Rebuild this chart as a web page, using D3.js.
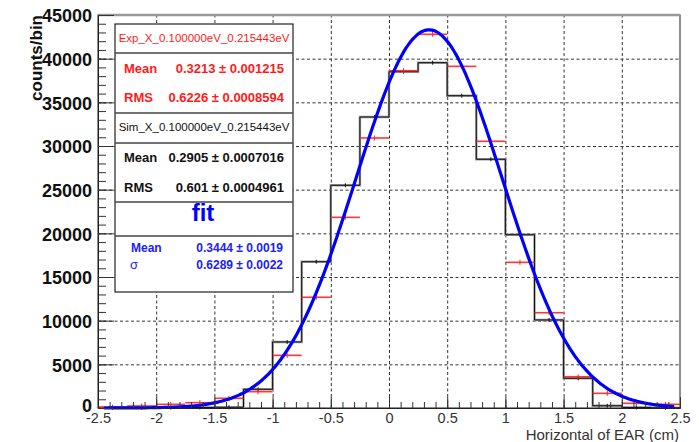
<!DOCTYPE html>
<html>
<head>
<meta charset="utf-8">
<title>Horizontal of EAR</title>
<script src="https://cdn.jsdelivr.net/npm/d3@7"></script>
<style>
    body { margin: 0; background: #fff; }
    svg { display: block; font-family: "Liberation Sans", Arial, sans-serif; }
    .grid line { stroke: #333; stroke-dasharray: 3,2.5; stroke-width: 1; }
    .grid path { display: none; }
    .ax path { stroke: #222; }
    .ax line { stroke: #333; }
</style>
</head>
<body>
<svg id="chart" width="699" height="442"></svg>
<script>
// bin low edges (width 0.25 cm)
var binLow = [-2.5, -2.25, -2, -1.75, -1.5, -1.25, -1, -0.75, -0.5, -0.25,
              0, 0.25, 0.5, 0.75, 1, 1.25, 1.5, 1.75, 2, 2.25];
var binWidth = 0.25;
// Sim_X histogram (black)
var simCounts = [30, 40, 50, 60, 80, 2140, 7560, 16750, 25500, 33320,
                 38510, 39540, 35760, 28480, 19840, 10080, 3400, 260, 60, 30];
// Exp_X histogram (red)
var expCounts = [100, 230, 420, 610, 1110, 1870, 6030, 12680, 21830, 30920,
                 38620, 42790, 39120, 30540, 16680, 10910, 3580, 1680, 540, 420];
// gaussian fit parameters (from the stats box)
var fitAmp = 43300, fitMean = 0.3444, fitSigma = 0.6289;

var xTicks = [-2.5, -2, -1.5, -1, -0.5, 0, 0.5, 1, 1.5, 2, 2.5];
var yTicks = [0, 5000, 10000, 15000, 20000, 25000, 30000, 35000, 40000, 45000];

var svg = d3.select("#chart");
var L = 98, R = 680, T = 15, B = 408;

var x = d3.scaleLinear().domain([-2.5, 2.5]).range([L, R]);
var y = d3.scaleLinear().domain([0, 45000]).range([B, T]);

// grid
svg.append("g").attr("class", "grid")
    .attr("transform", "translate(0," + B + ")")
    .call(d3.axisBottom(x).tickValues(xTicks.slice(1, -1)).tickSize(-(B - T)).tickFormat(""));
svg.append("g").attr("class", "grid")
    .attr("transform", "translate(" + L + ",0)")
    .call(d3.axisLeft(y).tickValues(yTicks.slice(1, -1)).tickSize(-(R - L)).tickFormat(""));

// frame
svg.append("rect").attr("x", L).attr("y", T).attr("width", R - L).attr("height", B - T)
    .attr("fill", "none").attr("stroke", "#444").attr("stroke-width", 1.2);
svg.append("line").attr("x1", L).attr("x2", R).attr("y1", T).attr("y2", T)
    .attr("stroke", "#999").attr("stroke-width", 2.5);

// histogram sim (black step)
function stepPath(counts) {
    var p = "M" + x(binLow[0]) + "," + y(0);
    counts.forEach(function(c, i) {
        p += "L" + x(binLow[i]) + "," + y(c) + "L" + x(binLow[i] + binWidth) + "," + y(c);
    });
    p += "L" + x(binLow[binLow.length - 1] + binWidth) + "," + y(0);
    return p;
}
svg.append("path").attr("d", stepPath(simCounts))
    .attr("fill", "none").attr("stroke", "#999").attr("stroke-width", 2.4);
svg.append("path").attr("d", stepPath(simCounts))
    .attr("fill", "none").attr("stroke", "#111").attr("stroke-width", 1);
svg.selectAll(".simerr").data(simCounts).enter().append("line")
    .attr("x1", function(d, i) { return x(binLow[i] + binWidth / 2); })
    .attr("x2", function(d, i) { return x(binLow[i] + binWidth / 2); })
    .attr("y1", function(d) { return y(d) - 2; })
    .attr("y2", function(d) { return y(d) + 2; })
    .attr("stroke", "#111").attr("stroke-width", 1);

// histogram exp (red markers)
svg.selectAll(".exp").data(expCounts).enter().append("line")
    .attr("x1", function(d, i) { return x(binLow[i]); })
    .attr("x2", function(d, i) { return x(binLow[i] + binWidth); })
    .attr("y1", function(d) { return y(d); })
    .attr("y2", function(d) { return y(d); })
    .attr("stroke", "#ff2020").attr("stroke-width", 1.6).attr("stroke-opacity", 0.9);
svg.selectAll(".experr").data(expCounts).enter().append("line")
    .attr("x1", function(d, i) { return x(binLow[i] + binWidth / 2); })
    .attr("x2", function(d, i) { return x(binLow[i] + binWidth / 2); })
    .attr("y1", function(d) { return y(d) - 2.5; })
    .attr("y2", function(d) { return y(d) + 2.5; })
    .attr("stroke", "#ff2020").attr("stroke-width", 1);

// fit curve
var fitX = d3.range(-2.45, 2.451, 0.02);
var line = d3.line()
    .x(function(d) { return x(d); })
    .y(function(d) { return y(fitAmp * Math.exp(-0.5 * Math.pow((d - fitMean) / fitSigma, 2))); })
    .curve(d3.curveMonotoneX);
svg.append("path").datum(fitX).attr("d", line)
    .attr("fill", "none").attr("stroke", "#0000ff").attr("stroke-width", 3.2);

// axes
var minorX = d3.range(-25, 26).map(function(v) { return v / 10; });
var minorY = d3.range(0, 46).map(function(v) { return v * 1000; });

svg.append("g").attr("class", "ax")
    .attr("transform", "translate(0," + B + ")")
    .call(d3.axisBottom(x).tickValues(minorX).tickSizeInner(-6).tickSizeOuter(0).tickFormat(""));
var gx = svg.append("g").attr("class", "ax")
    .attr("transform", "translate(0," + B + ")")
    .call(d3.axisBottom(x).tickValues(xTicks).tickSizeInner(-11).tickSizeOuter(0).tickPadding(3)
        .tickFormat(function(d) { return String(d); }));
gx.selectAll("text").attr("font-size", 14.5).attr("fill", "#333").attr("dy", "0.8em");

svg.append("g").attr("class", "ax")
    .attr("transform", "translate(" + L + ",0)")
    .call(d3.axisLeft(y).tickValues(minorY).tickSizeInner(-8).tickSizeOuter(0).tickFormat(""));
var gy = svg.append("g").attr("class", "ax")
    .attr("transform", "translate(" + L + ",0)")
    .call(d3.axisLeft(y).tickValues(yTicks).tickSizeInner(-16).tickSizeOuter(0).tickPadding(6)
        .tickFormat(d3.format("d")));
gy.selectAll("text").attr("font-size", 18).attr("font-weight", "bold").attr("fill", "#111")
    .attr("dy", function(d) { return d === 0 ? "0.22em" : "0.38em"; });

// axis titles
svg.append("text").attr("x", R - 1).attr("y", 440).attr("text-anchor", "end")
    .attr("font-size", 15).attr("fill", "#333").text("Horizontal of EAR (cm)");
svg.append("text").attr("transform", "translate(42," + T + ") rotate(-90)")
    .attr("text-anchor", "end").attr("font-size", 17).attr("font-weight", "bold")
    .attr("fill", "#111").text("counts/bin");

// stats box
var box = svg.append("g");
box.append("rect").attr("x", 115).attr("y", 24).attr("width", 178).attr("height", 268)
    .attr("fill", "#fff").attr("stroke", "#222").attr("stroke-width", 1.2);
[53, 113, 143, 202, 236].forEach(function(yy) {
    box.append("line").attr("x1", 115).attr("x2", 293).attr("y1", yy).attr("y2", yy)
        .attr("stroke", "#444").attr("stroke-width", 1.4);
});

function tx(xx, yy, s, opts) {
    var t = box.append("text").attr("x", xx).attr("y", yy).text(s)
        .attr("font-size", opts.size).attr("fill", opts.color)
        .attr("text-anchor", opts.anchor || "start");
    if (opts.bold) t.attr("font-weight", "bold");
    return t;
}
tx(204, 42, "Exp_X_0.100000eV_0.215443eV", {size: 11.5, color: "#ff1a1a", anchor: "middle"});
tx(124, 73, "Mean", {size: 13, color: "#ff1a1a", bold: true});
tx(284, 73, "0.3213 ± 0.001215", {size: 13, color: "#ff1a1a", bold: true, anchor: "end"});
tx(124, 102, "RMS", {size: 13, color: "#ff1a1a", bold: true});
tx(284, 102, "0.6226 ± 0.0008594", {size: 13, color: "#ff1a1a", bold: true, anchor: "end"});
tx(204, 131, "Sim_X_0.100000eV_0.215443eV", {size: 11.5, color: "#111", anchor: "middle"});
tx(124, 162, "Mean", {size: 13, color: "#111", bold: true});
tx(284, 162, "0.2905 ± 0.0007016", {size: 13, color: "#111", bold: true, anchor: "end"});
tx(124, 192, "RMS", {size: 13, color: "#111", bold: true});
tx(284, 192, "0.601 ± 0.0004961", {size: 13, color: "#111", bold: true, anchor: "end"});
tx(203, 221, "fit", {size: 24, color: "#0000ff", bold: true, anchor: "middle"});
tx(131, 252, "Mean", {size: 12, color: "#2020ff", bold: true});
tx(283, 252, "0.3444 ± 0.0019", {size: 12, color: "#2020ff", bold: true, anchor: "end"});
tx(130, 269, "σ", {size: 13, color: "#2020ff"});
tx(283, 269, "0.6289 ± 0.0022", {size: 12, color: "#2020ff", bold: true, anchor: "end"});
</script>
</body>
</html>
